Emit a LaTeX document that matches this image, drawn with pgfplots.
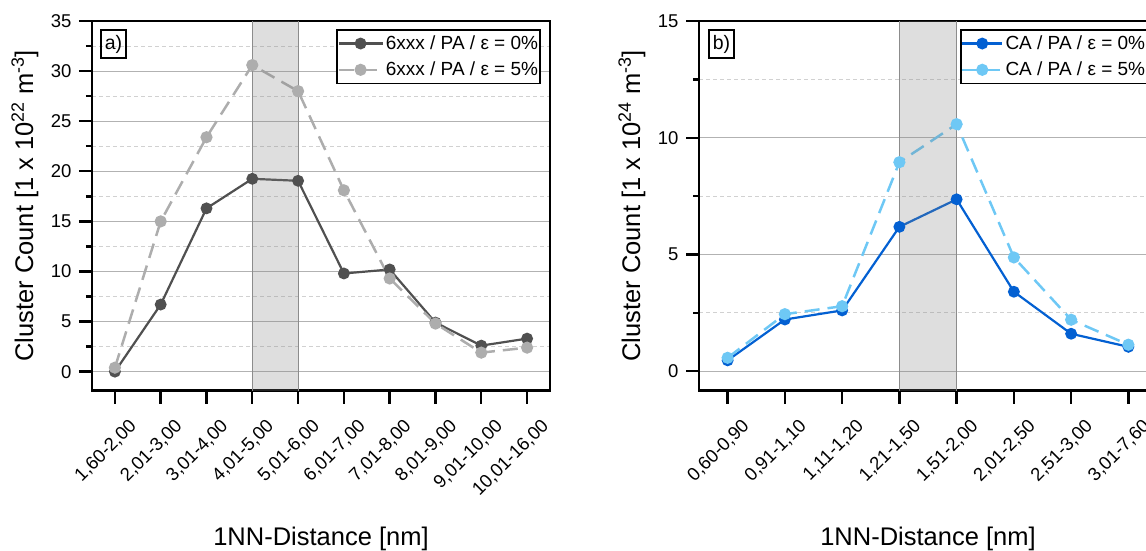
\documentclass[border=0pt]{standalone}
\usepackage{fontspec}
\setmainfont{Liberation Sans}
\usepackage{pgfplots}
\pgfplotsset{compat=1.18}
\definecolor{darkg}{HTML}{505050}
\definecolor{lightg}{HTML}{ADADAD}
\definecolor{blueA}{HTML}{0360D2}
\definecolor{blueB}{HTML}{6EC8F5}
\pgfplotsset{
  common/.style={
    scale only axis, width=458pt, height=369.7pt,
    xmin=-0.5,
    axis line style={line width=2.6pt},
    tick align=outside, tick pos=left,
    major tick length=13pt, minor tick length=6pt,
    tick style={black, line width=2.4pt},
    xtick={0,...,9},
    ymajorgrids, yminorgrids, minor y tick num=1,
    major grid style={line width=1pt, color=black!30},
    minor grid style={line width=0.9pt, color=black!18, dash pattern=on 4pt off 3pt},
    ticklabel style={font=\fontsize{18.5}{22}\selectfont},
    /pgf/number format/assume math mode=true,
    xticklabel style={xshift=21pt, yshift=-17pt, rotate=45, anchor=east},
    yticklabel style={xshift=-4pt},
    label style={font=\fontsize{25.5}{30}\selectfont},
    xlabel style={at={(axis description cs:0.5,-0.4187)}, anchor=base},
    ylabel style={at={(axis description cs:-0.1288,0.5)}, anchor=base},
    legend cell align=left,
    legend style={draw=black, line width=1.8pt, fill=white,
      at={(axis description cs:1,1)}, anchor=north east, xshift=-9pt, yshift=-8pt,
      inner xsep=0pt, inner ysep=4pt, row sep=7pt,
      font=\fontsize{19}{22}\selectfont},
    legend image code/.code={\draw[mark repeat=2,mark phase=2] plot coordinates {(0pt,0pt) (22pt,0pt) (44pt,0pt)};},
  },
  solidA/.style={color=darkg, line width=2.2pt, mark=*, mark size=4.8pt, mark options={solid, fill=darkg, draw=darkg}},
  dashA/.style={color=lightg, line width=2.5pt, dash pattern=on 15pt off 8pt, mark=*, mark size=4.8pt, mark options={solid, fill=lightg, draw=lightg}},
  solidB/.style={color=blueA, line width=2.2pt, mark=*, mark size=4.8pt, mark options={solid, fill=blueA, draw=blueA}},
  dashB/.style={color=blueB, line width=2.5pt, dash pattern=on 15pt off 8pt, mark=*, mark size=4.8pt, mark options={solid, fill=blueB, draw=blueB}},
}
\begin{document}
\begin{tikzpicture}
\begin{axis}[common,
  at={(92pt,159.3pt)}, anchor=south west,
  xmax=9.5, ymin=-1.9, ymax=35,
  ytick={0,5,...,35},
  xticklabels={{1,60-2,00},{2,01-3,00},{3,01-4,00},{4,01-5,00},{5,01-6,00},{6,01-7,00},{7,01-8,00},{8,01-9,00},{9,01-10,00},{10,01-16,00}},
  xlabel={1NN-Distance [nm]},
  ylabel={Cluster Count [1 x 10\textsuperscript{22} m\textsuperscript{-3}]},
]
\addplot[solidA] coordinates {(0,0.0)(1,6.7)(2,16.3)(3,19.25)(4,19.05)(5,9.8)(6,10.2)(7,4.9)(8,2.6)(9,3.3)};
\addlegendentry{6xxx / PA / ε = 0\%}
\addplot[dashA] coordinates {(0,0.4)(1,15.0)(2,23.4)(3,30.6)(4,28.0)(5,18.1)(6,9.3)(7,4.8)(8,1.9)(9,2.4)};
\addlegendentry{6xxx / PA / ε = 5\%}
\fill[black!50, opacity=0.26] (axis cs:3,-1.9) rectangle (axis cs:4,35);
\draw[black!45, line width=1pt] (axis cs:3,-1.9) -- (axis cs:3,35);
\draw[black!45, line width=1pt] (axis cs:4,-1.9) -- (axis cs:4,35);
\node[draw, line width=1.8pt, inner xsep=4pt, inner ysep=5pt, anchor=north west, font=\fontsize{19.5}{22}\selectfont] at (axis description cs:0,1) [xshift=8pt, yshift=-8pt] {a)};
\end{axis}
\begin{axis}[common,
  at={(699pt,159.3pt)}, anchor=south west,
  xmax=7.5, ymin=-0.84, ymax=15,
  ytick={0,5,10,15},
  xticklabels={{0,60-0,90},{0,91-1,10},{1,11-1,20},{1,21-1,50},{1,51-2,00},{2,01-2,50},{2,51-3,00},{3,01-7,60}},
  xlabel={1NN-Distance [nm]},
  ylabel={Cluster Count [1 x 10\textsuperscript{24} m\textsuperscript{-3}]},
  legend image code/.code={\draw[mark repeat=2,mark phase=2] plot coordinates {(0pt,0pt) (20pt,0pt) (40pt,0pt)};},
]
\addplot[solidB] coordinates {(0,0.46)(1,2.21)(2,2.60)(3,6.18)(4,7.36)(5,3.40)(6,1.60)(7,1.04)};
\addlegendentry{CA / PA / ε = 0\%}
\addplot[dashB] coordinates {(0,0.57)(1,2.44)(2,2.78)(3,8.95)(4,10.58)(5,4.87)(6,2.20)(7,1.13)};
\addlegendentry{CA / PA / ε = 5\%}
\fill[black!50, opacity=0.26] (axis cs:3,-0.84) rectangle (axis cs:4,15);
\draw[black!45, line width=1pt] (axis cs:3,-0.84) -- (axis cs:3,15);
\draw[black!45, line width=1pt] (axis cs:4,-0.84) -- (axis cs:4,15);
\node[draw, line width=1.8pt, inner xsep=4pt, inner ysep=5pt, anchor=north west, font=\fontsize{19.5}{22}\selectfont] at (axis description cs:0,1) [xshift=9pt, yshift=-8pt] {b)};
\end{axis}
\pgfresetboundingbox
\path (0pt,0pt) rectangle (1146pt,550pt);
\end{tikzpicture}
\end{document}
